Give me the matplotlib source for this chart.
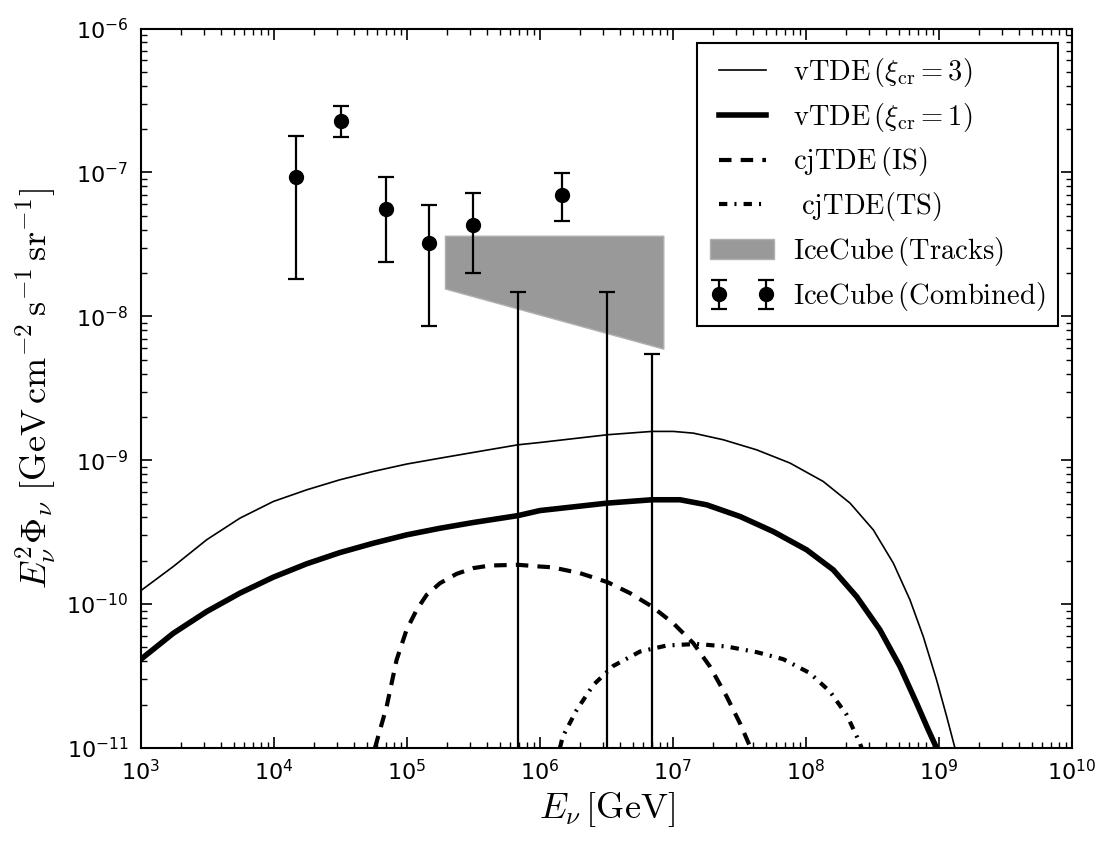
import matplotlib
matplotlib.use('Agg')
import matplotlib.pyplot as plt
from matplotlib.ticker import FuncFormatter, LogLocator
import numpy as np

plt.rcParams['mathtext.fontset'] = 'cm'
plt.rcParams['font.family'] = ['DejaVu Sans']

# vTDE, xi_cr = 3 (thin)
vtde3_logE = [3.0, 3.243, 3.494, 3.744, 3.995, 4.246, 4.496, 4.747, 4.997, 5.248, 5.499, 5.835,
              6.0, 6.509, 6.842, 7.002, 7.153, 7.378, 7.629, 7.88, 8.13, 8.331, 8.506, 8.657,
              8.782, 8.882, 8.982, 9.058, 9.12]
vtde3_logF = [-9.906, -9.739, -9.553, -9.403, -9.287, -9.206, -9.136, -9.078, -9.027, -8.986, -8.946, -8.893,
              -8.877, -8.823, -8.80, -8.80, -8.812, -8.858, -8.928, -9.02, -9.148, -9.298, -9.484, -9.716,
              -9.971, -10.226, -10.527, -10.782, -11.0]

# vTDE, xi_cr = 1 (thick)
vtde1_logE = [3.0, 3.243, 3.494, 3.744, 3.995, 4.246, 4.496, 4.747, 4.997, 5.248, 5.499, 5.835,
              6.0, 6.509, 6.842, 7.053, 7.253, 7.504, 7.754, 8.005, 8.205, 8.381, 8.556, 8.707,
              8.832, 8.92, 8.982]
vtde1_logF = [-10.383, -10.203, -10.052, -9.924, -9.813, -9.720, -9.642, -9.577, -9.519, -9.473, -9.433, -9.385,
              -9.35, -9.298, -9.275, -9.275, -9.31, -9.391, -9.496, -9.623, -9.762, -9.948, -10.179, -10.434,
              -10.689, -10.875, -11.0]

# cjTDE internal shock
cjis_logE = [4.759, 4.847, 4.922, 4.997, 5.073, 5.148, 5.248, 5.373, 5.499, 5.624, 5.835, 6.0,
             6.088, 6.301, 6.509, 6.677, 6.842, 7.002, 7.153, 7.278, 7.404, 7.504, 7.584]
cjis_logF = [-11.0, -10.713, -10.388, -10.179, -10.04, -9.936, -9.855, -9.79, -9.75, -9.732, -9.727, -9.739,
             -9.744, -9.785, -9.848, -9.924, -10.017, -10.133, -10.272, -10.434, -10.643, -10.829, -11.0]

# cjTDE termination shock
cjts_logE = [6.15, 6.171, 6.276, 6.401, 6.551, 6.752, 6.953, 7.178, 7.404, 7.629, 7.829, 8.03,
             8.18, 8.306, 8.406, 8.418]
cjts_logF = [-11.0, -10.921, -10.736, -10.562, -10.43, -10.33, -10.288, -10.277, -10.295, -10.334, -10.383,
             -10.48, -10.608, -10.77, -10.967, -11.0]

# IceCube tracks band
trk_E = [1.93e5, 8.46e6]
trk_hi = [3.63e-8, 3.63e-8]
trk_lo = [1.56e-8, 5.96e-9]

# IceCube combined points
pts_E = [1.47e4, 3.19e4, 6.9e4, 1.46e5, 3.15e5, 1.47e6]
pts_F = [9.35e-8, 2.26e-7, 5.6e-8, 3.21e-8, 4.31e-8, 6.93e-8]
pts_hi = [1.8e-7, 2.9e-7, 9.35e-8, 5.97e-8, 7.16e-8, 9.9e-8]
pts_lo = [1.82e-8, 1.75e-7, 2.39e-8, 8.5e-9, 2.0e-8, 4.6e-8]

# upper limits
ul_E = [6.8e5, 3.19e6, 6.9e6]
ul_F = [1.48e-8, 1.48e-8, 5.5e-9]

fig = plt.figure(figsize=(11.17, 8.49), dpi=100)
ax = fig.add_axes([0.1262, 0.119, 0.8335, 0.8474])

l1, = ax.plot(10**np.array(vtde3_logE), 10**np.array(vtde3_logF), color='k', lw=1.2)
l2, = ax.plot(10**np.array(vtde1_logE), 10**np.array(vtde1_logF), color='k', lw=4)
l3, = ax.plot(10**np.array(cjis_logE), 10**np.array(cjis_logF), color='k', lw=3, dashes=(3.0, 2.2))
l4, = ax.plot(10**np.array(cjts_logE), 10**np.array(cjts_logF), color='k', lw=3,
              dashes=(2.0, 1.7, 0.5, 1.7))

band = ax.fill_between(trk_E, trk_lo, trk_hi, facecolor='#999999', edgecolor='#b0b0b0', lw=1)

pts_F = np.array(pts_F)
yerr = [pts_F - np.array(pts_lo), np.array(pts_hi) - pts_F]
eb = ax.errorbar(pts_E, pts_F, yerr=yerr, fmt='o', color='k', ms=10, elinewidth=1.6,
                 capsize=6, capthick=1.6)
ul_F = np.array(ul_F)
ax.errorbar(ul_E, ul_F, yerr=[ul_F - 1e-14, np.zeros(3)], fmt='none', ecolor='k',
            elinewidth=1.6, capsize=6, capthick=1.6)

ax.set_xscale('log')
ax.set_yscale('log')
ax.set_xlim(1e3, 1e10)
ax.set_ylim(1e-11, 1e-6)
ax.xaxis.set_major_locator(LogLocator(base=10, numticks=20))
ax.yaxis.set_major_locator(LogLocator(base=10, numticks=20))

fmt = FuncFormatter(lambda v, p: r'$\mathregular{10^{%d}}$' % int(round(np.log10(v))))
ax.xaxis.set_major_formatter(fmt)
ax.yaxis.set_major_formatter(fmt)
ax.tick_params(which='both', direction='in', top=True, right=True, labelsize=16)
ax.tick_params(which='major', length=8, width=1.2)
ax.tick_params(which='minor', length=4, width=1)
ax.tick_params(axis='x', pad=8)
ax.tick_params(axis='y', pad=9)
for s in ax.spines.values():
    s.set_linewidth(1.5)

ax.set_xlabel(r'$E_\nu\,[\mathrm{GeV}]$', fontsize=26, labelpad=4)
ax.set_ylabel(r'$E_\nu^2\Phi_\nu\ [\mathrm{GeV\,cm^{-2}\,s^{-1}\,sr^{-1}}]$', fontsize=26, labelpad=6)

labels = [r'$\mathrm{vTDE}\,(\xi_{\mathrm{cr}}=3)$',
          r'$\mathrm{vTDE}\,(\xi_{\mathrm{cr}}=1)$',
          r'$\mathrm{cjTDE}\,(\mathrm{IS})$',
          r'$\ \mathrm{cjTDE(TS)}$',
          r'$\mathrm{IceCube}\,(\mathrm{Tracks})$',
          r'$\mathrm{IceCube}\,(\mathrm{Combined})$']
leg = ax.legend([l1, l2, l3, l4, band, eb], labels, loc='upper right', fontsize=20.5,
                numpoints=2, handlelength=2.25, handletextpad=0.65, labelspacing=0.42,
                borderpad=0.45, fancybox=False, framealpha=1, edgecolor='k',
                borderaxespad=0.5)
leg.get_frame().set_linewidth(1.5)

fig.savefig('out.png', dpi=100)
